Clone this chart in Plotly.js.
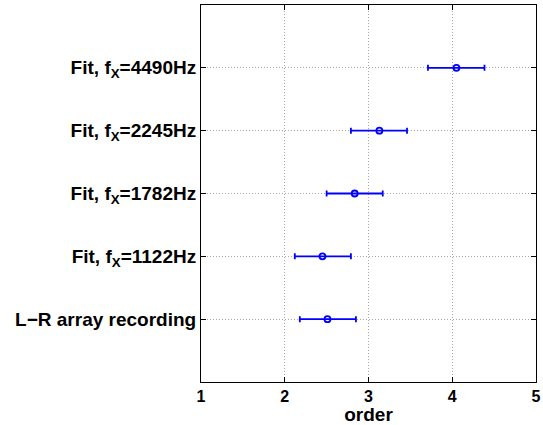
<!DOCTYPE html>
<html>
<head>
<meta charset="utf-8">
<script src="https://cdn.plot.ly/plotly-3.0.1.min.js"></script>
<style>html,body{margin:0;padding:0;background:#fff;}#chart{width:543px;height:425px;}</style>
</head>
<body>
<div id="chart"></div>
<script>
const categories = ["L\u2212R array recording", "Fit, f<sub>X</sub>=1122Hz", "Fit, f<sub>X</sub>=1782Hz", "Fit, f<sub>X</sub>=2245Hz", "Fit, f<sub>X</sub>=4490Hz"];
const categoryPos = [1, 2, 3, 4, 5];
const orderValues = [2.51, 2.45, 2.835, 3.13, 4.05];
const lowerBound = [2.18, 2.12, 2.50, 2.79, 3.71];
const upperBound = [2.85, 2.79, 3.17, 3.46, 4.385];
const xTicks = [1, 2, 3, 4, 5];

const errPlus = upperBound.map((u, i) => u - orderValues[i]);
const errMinus = lowerBound.map((l, i) => orderValues[i] - l);

const trace = {
  x: orderValues,
  y: categoryPos,
  type: 'scatter',
  mode: 'markers',
  marker: {symbol: 'circle-open', size: 6, color: '#0000ff', line: {width: 1.8, color: '#0000ff'}},
  error_x: {type: 'data', symmetric: false, array: errPlus, arrayminus: errMinus,
            color: '#0000ff', thickness: 1.8, width: 3},
  hoverinfo: 'none'
};

const fontFam = '"Liberation Sans", Arial, sans-serif';
const layout = {
  width: 543, height: 425,
  margin: {l: 201, r: 7, t: 5, b: 43, pad: 0},
  paper_bgcolor: '#fff', plot_bgcolor: '#fff',
  showlegend: false,
  font: {family: fontFam, size: 16, color: '#000', weight: 'bold'},
  xaxis: {
    range: [1, 5], tickvals: xTicks, ticktext: xTicks.map(String),
    showline: true, linecolor: '#000', linewidth: 1, mirror: 'ticks',
    ticks: 'inside', ticklen: 5, tickcolor: '#000', tickwidth: 1,
    showgrid: true, gridcolor: '#a8a8a8', griddash: '1px,2px', gridwidth: 1,
    zeroline: false,
    tickfont: {family: fontFam, size: 16, color: '#000', weight: 'bold'},
    title: {text: 'order', font: {family: fontFam, size: 19, color: '#000', weight: 'bold'}, standoff: 0},
    automargin: false
  },
  yaxis: {
    range: [0, 6], tickvals: categoryPos, ticktext: categories,
    showline: true, linecolor: '#000', linewidth: 1, mirror: 'ticks',
    ticks: 'inside', ticklen: 5, tickcolor: '#000', tickwidth: 1,
    showgrid: true, gridcolor: '#a8a8a8', griddash: '1px,2px', gridwidth: 1,
    zeroline: false,
    tickfont: {family: fontFam, size: 19, color: '#000', weight: 'bold'},
    automargin: false
  }
};

Plotly.newPlot('chart', [trace], layout, {staticPlot: true, displayModeBar: false});
</script>
</body>
</html>
